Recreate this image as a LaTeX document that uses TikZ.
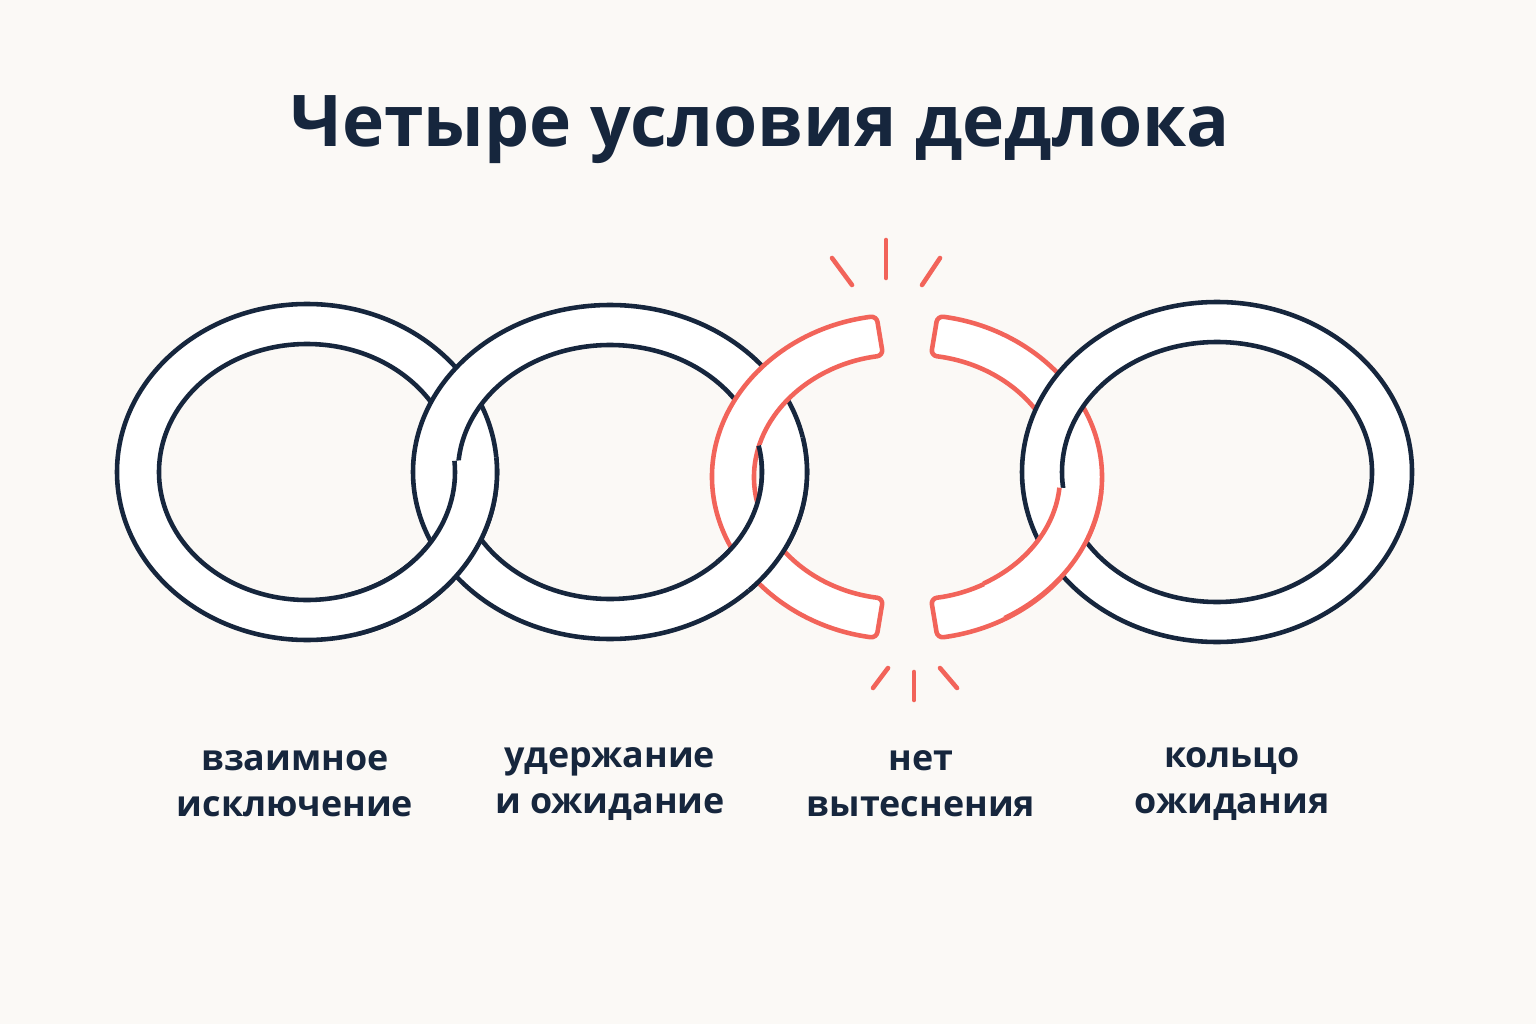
\documentclass[tikz,border=0pt]{standalone}
\usepackage{fontspec}
\setmainfont{Open Sans}
\usetikzlibrary{calc,positioning}
\definecolor{navy}{HTML}{16263D}
\definecolor{linkred}{HTML}{F2645A}
\definecolor{paper}{HTML}{FBF9F6}
\newcommand\fullring[5]{%
  \draw[ring,even odd rule] #1 ellipse[x radius=#2,y radius=#3] #1 ellipse[x radius=#4,y radius=#5];}
\newcommand\bandseg[8]{%
  \draw[#8] ($#1+(#6:#2 and #3)$) arc[start angle=#6,end angle=#7,x radius=#2,y radius=#3]
    -- ($#1+(#7:#4 and #5)$) arc[start angle=#7,end angle=#6,x radius=#4,y radius=#5] -- cycle;}
% band piece laid over another link: white fill, only the two rims drawn
\newcommand\overseg[8]{%
  \fill[white] ($#1+(#6:#2 and #3)$) arc[start angle=#6,end angle=#7,x radius=#2,y radius=#3]
    -- ($#1+(#7:#4 and #5)$) arc[start angle=#7,end angle=#6,x radius=#4,y radius=#5] -- cycle;
  \draw[#8] ($#1+(#6:#2 and #3)$) arc[start angle=#6,end angle=#7,x radius=#2,y radius=#3];
  \draw[#8] ($#1+(#6:#4 and #5)$) arc[start angle=#6,end angle=#7,x radius=#4,y radius=#5];}
\begin{document}
\begin{tikzpicture}[
  ring/.style={draw=navy,fill=white,line width=1.3pt},
  rim/.style={draw=navy,line width=1.3pt},
  redrim/.style={draw=linkred,line width=1.3pt},
  broken/.style={draw=linkred,fill=white,line width=1.3pt,rounded corners=0.6mm,line join=round},
  spark/.style={draw=linkred,line width=1.3pt,line cap=round},
  label/.style={font=\fontsize{10.2}{13}\selectfont\bfseries,text=navy,align=center}]
\fill[paper] (0,0) rectangle (15.36,10.24);
\useasboundingbox (0,0) rectangle (15.36,10.24);
\node[font=\fontsize{20.3}{24}\selectfont\bfseries,text=navy] (title) at (7.60,8.94) {Четыре условия дедлока};
% chain
\fullring{(3.07,5.52)}{1.90}{1.68}{1.48}{1.28}
\fullring{(6.10,5.52)}{1.97}{1.67}{1.52}{1.27}
\overseg{(3.07,5.52)}{1.90}{1.68}{1.48}{1.28}{-75}{5}{rim}
\bandseg{(9.07,5.47)}{1.95}{1.63}{1.53}{1.23}{99}{261}{broken}
\overseg{(6.10,5.52)}{1.97}{1.67}{1.52}{1.27}{-45}{12}{rim}
\bandseg{(9.07,5.47)}{1.95}{1.63}{1.53}{1.23}{-81}{81}{broken}
\fullring{(12.17,5.52)}{1.95}{1.70}{1.55}{1.30}
\overseg{(9.07,5.47)}{1.95}{1.63}{1.53}{1.23}{-60}{-5}{redrim}
% sparks
\draw[spark] (8.86,7.84) -- (8.86,7.46);
\draw[spark] (8.32,7.66) -- (8.52,7.39);
\draw[spark] (9.40,7.66) -- (9.22,7.39);
\draw[spark] (9.14,3.52) -- (9.14,3.24);
\draw[spark] (8.88,3.56) -- (8.73,3.36);
\draw[spark] (9.40,3.56) -- (9.57,3.36);
% labels
\node[label] (mutex) at (2.95,2.40) {взаимное\\исключение};
\node[label] (hold) at (6.10,2.40) {удержание\\и ожидание};
\node[label] (nopre) at (9.21,2.40) {нет\\вытеснения};
\node[label] (cycle) at (12.32,2.40) {кольцо\\ожидания};
\end{tikzpicture}
\end{document}
